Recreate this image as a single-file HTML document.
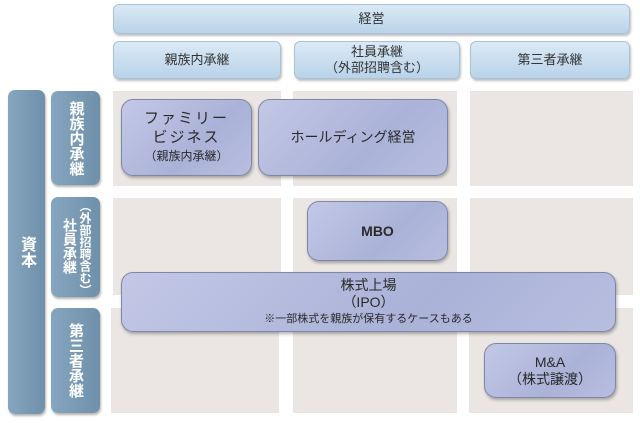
<!DOCTYPE html>
<html><head><meta charset="utf-8"><style>
body{margin:0;width:640px;height:423px;background:#fff;position:relative;overflow:hidden;font-family:"Liberation Sans","Noto Sans CJK JP",sans-serif;}
div{position:absolute;box-sizing:border-box;}
.h{background:linear-gradient(180deg,#dbe9f5,#b9d3ea);border:1px solid #a9c2d8;border-radius:6px;box-shadow:1px 2px 2px rgba(0,0,0,.25);color:#333;font-size:13px;display:flex;align-items:center;justify-content:center;text-align:center;line-height:16px;}
.c{background:#ebe6e3;}
.v{background:linear-gradient(90deg,#86a6c0,#6f90aa);border-radius:7px;box-shadow:1px 2px 2px rgba(0,0,0,.3);color:#fff;font-size:15px;display:flex;align-items:center;justify-content:center;writing-mode:vertical-rl;line-height:17px;font-weight:bold;}
.t{writing-mode:vertical-rl;color:#fff;font-weight:bold;white-space:nowrap;}
.b{background:linear-gradient(135deg,#c3c8e6,#aab2d8 60%,#b8bee0);border:1px solid #7f87a8;border-radius:12px;box-shadow:1px 2px 3px rgba(0,0,0,.3);color:#2a2a2a;font-size:13px;display:flex;flex-direction:column;align-items:center;justify-content:center;text-align:center;line-height:17px;}
</style></head><body>
<div class="h" style="left:113px;top:4px;width:517px;height:30px;">経営</div>
<div class="h" style="left:113px;top:41px;width:168px;height:38px;">親族内承継</div>
<div class="h" style="left:294px;top:41px;width:166px;height:38px;">社員承継<br>（外部招聘含む）</div>
<div class="h" style="left:470px;top:41px;width:160px;height:38px;">第三者承継</div>

<div class="c" style="left:113px;top:91px;width:168px;height:95px;"></div>
<div class="c" style="left:293px;top:91px;width:164px;height:95px;"></div>
<div class="c" style="left:470px;top:91px;width:163px;height:95px;"></div>
<div class="c" style="left:113px;top:198px;width:168px;height:97px;"></div>
<div class="c" style="left:293px;top:198px;width:164px;height:97px;"></div>
<div class="c" style="left:470px;top:198px;width:163px;height:97px;"></div>
<div class="c" style="left:111px;top:308px;width:168px;height:105px;"></div>
<div class="c" style="left:293px;top:308px;width:164px;height:105px;"></div>
<div class="c" style="left:469px;top:308px;width:164px;height:105px;"></div>

<div class="v" style="left:8px;top:90px;width:37px;height:324px;font-size:16px;">資本</div>
<div class="v" style="left:51px;top:91px;width:49px;height:94px;line-height:16px;">親族内承継</div>
<div class="v" style="left:51px;top:197px;width:49px;height:100px;"></div>
<div class="t" style="left:62px;top:218px;font-size:14px;line-height:16px;">社員承継</div>
<div class="t" style="left:78px;top:200px;font-size:12px;line-height:14px;">（外部招聘含む）</div>
<div class="v" style="left:51px;top:308px;width:49px;height:105px;">第三者承継</div>

<div class="b" style="left:121px;top:99px;width:131px;height:77px;font-size:15px;letter-spacing:2px;line-height:19px;"><span>ファミリー</span><span>ビジネス</span><span style="font-size:12px;letter-spacing:0">（親族内承継）</span></div>
<div class="b" style="left:258px;top:99px;width:190px;height:77px;font-size:14px;">ホールディング経営</div>
<div class="b" style="left:307px;top:201px;width:141px;height:60px;font-size:14px;font-weight:bold;">MBO</div>
<div class="b" style="left:121px;top:272px;width:495px;height:60px;font-size:14px;"><span>株式上場</span><span>（IPO）</span><span style="font-size:11px">※一部株式を親族が保有するケースもある</span></div>
<div class="b" style="left:484px;top:343px;width:132px;height:55px;font-size:14px;"><span>M&amp;A</span><span>（株式譲渡）</span></div>
</body></html>
